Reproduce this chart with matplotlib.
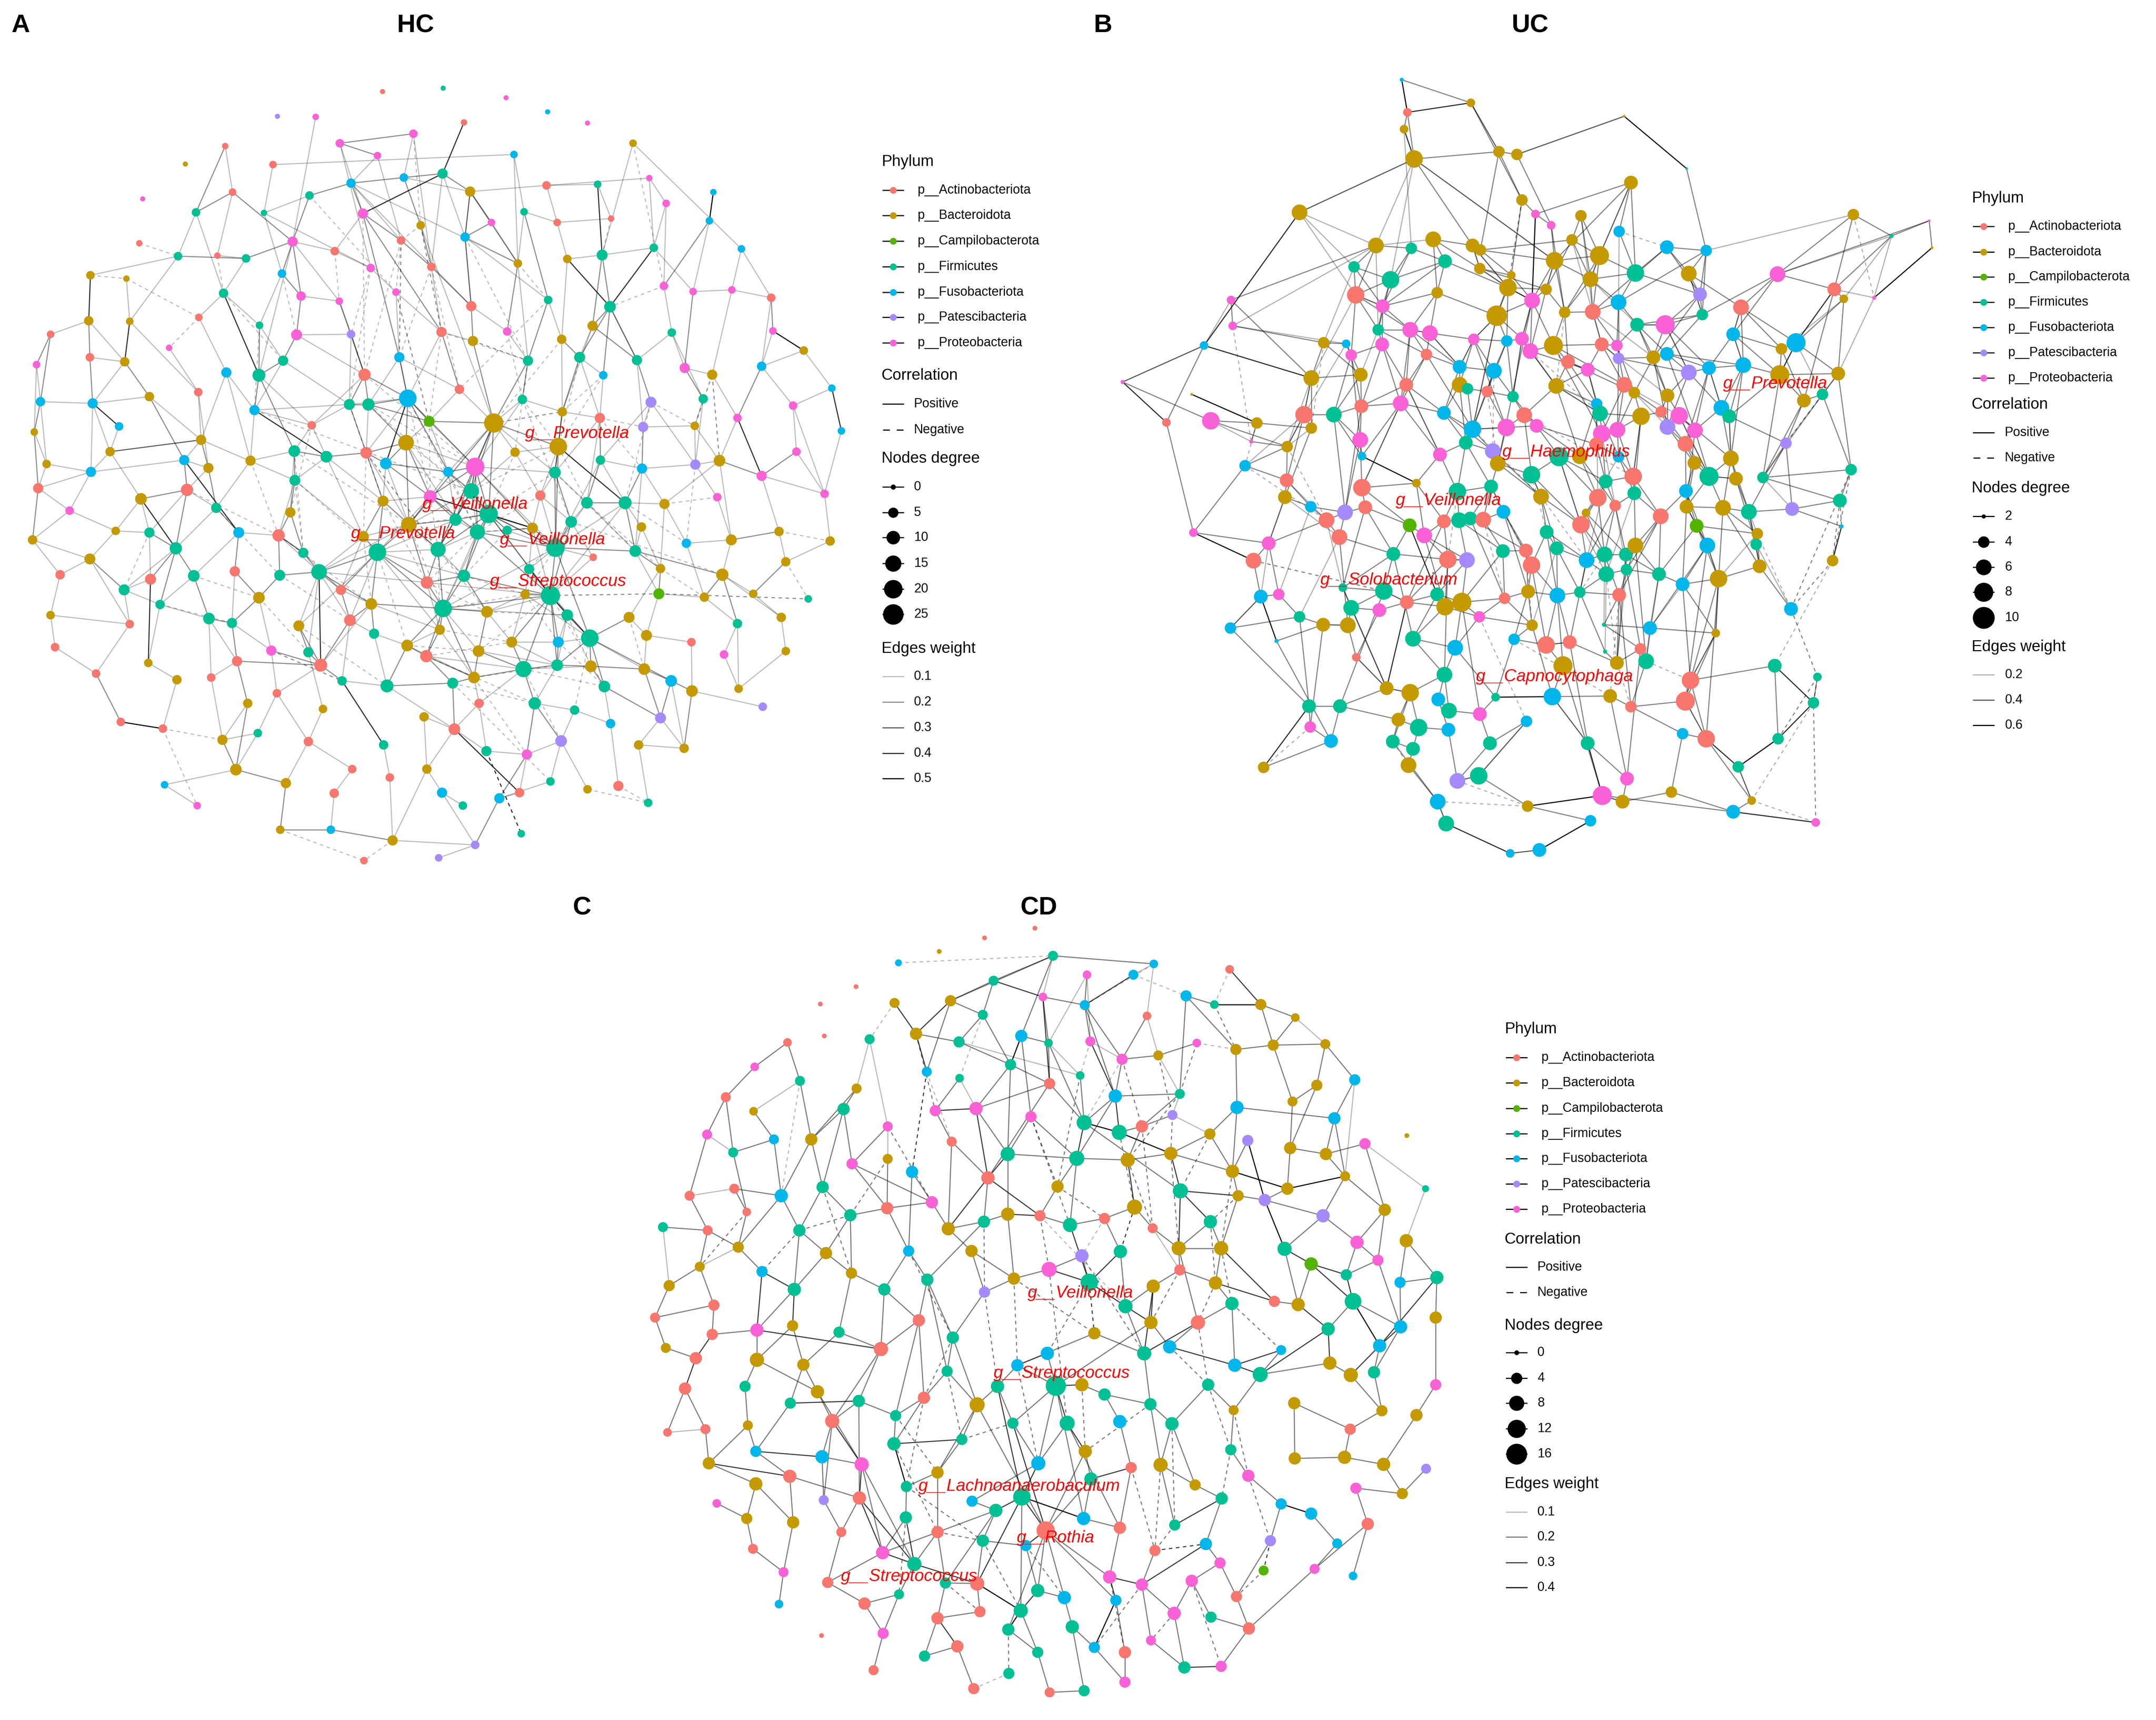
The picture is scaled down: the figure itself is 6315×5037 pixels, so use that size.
import numpy as np
import matplotlib
matplotlib.use('Agg')
import matplotlib.pyplot as plt
from matplotlib.collections import LineCollection

plt.rcParams['font.family'] = ['Liberation Sans', 'DejaVu Sans']

# phylum legend
phylum_codes = ['A', 'B', 'C', 'F', 'U', 'P', 'R']
phylum_names = ['p__Actinobacteriota', 'p__Bacteroidota', 'p__Campilobacterota',
                'p__Firmicutes', 'p__Fusobacteriota', 'p__Patescibacteria',
                'p__Proteobacteria']
phylum_colors = ['#F8766D', '#C49A00', '#53B400', '#00C094', '#00B6EB',
                 '#A58AFF', '#FB61D7']

# ---------------- HC network: (x, y, phylum, degree) in layout units ----------------
hc_nodes = [
    (681,163,'A',0),(789,157,'F',0),(901,174,'R',0),(975,199,'U',0),(1046,219,'R',0),
    (494,207,'P',0),(562,208,'R',1),(330,292,'B',0),(254,354,'R',0),(826,218,'A',1),
    (605,255,'R',3),(736,238,'R',3),(401,260,'A',1),(486,293,'A',2),(672,277,'R',2),
    (915,275,'U',2),(1127,255,'B',2),(788,309,'F',5),(625,326,'U',4),(719,316,'U',3),
    (551,348,'F',3),(837,341,'B',5),(973,330,'A',3),(1064,328,'F',2),(1156,317,'R',1),
    (1270,342,'U',1),(1186,362,'R',2),(349,378,'F',3),(414,342,'A',2),(470,379,'F',1),
    (646,380,'R',5),(749,401,'B',3),(875,396,'R',2),(933,377,'F',2),(992,396,'A',2),
    (1088,389,'A',1),(1263,393,'U',2),(248,433,'A',1),(387,455,'A',1),(317,456,'F',3),
    (438,460,'F',3),(521,430,'R',5),(502,487,'U',3),(596,447,'A',3),(714,428,'A',3),
    (828,422,'U',4),(1072,454,'F',6),(1164,441,'F',3),(1320,443,'U',2),(161,490,'B',3),
    (225,496,'B',1),(660,477,'R',3),(768,475,'A',3),(922,469,'B',3),(1010,461,'B',3),
    (1182,509,'R',3),(1234,519,'R',2),(1303,516,'R',2),(398,522,'F',4),(536,527,'R',4),
    (604,536,'R',2),(705,520,'R',2),(976,534,'F',3),(1086,546,'F',7),(1373,530,'A',3),
    (158,571,'B',4),(231,572,'B',2),(354,565,'A',2),(462,579,'F',2),(528,596,'R',6),
    (625,595,'P',3),(786,591,'A',5),(839,545,'A',5),(842,607,'B',5),(903,590,'R',3),
    (1000,604,'B',4),(1055,580,'B',5),(1196,592,'F',3),(1376,589,'R',2),(1431,624,'B',3),
    (90,595,'A',2),(160,636,'A',3),(222,644,'B',4),(301,619,'R',1),(504,642,'F',5),
    (649,667,'A',8),(711,636,'U',5),(940,642,'F',5),(1032,636,'F',6),(1134,641,'F',5),
    (1219,655,'R',5),(1268,667,'B',5),(1356,652,'U',4),(65,649,'R',2),(403,663,'U',5),
    (461,668,'F',9),(266,706,'B',4),(353,698,'A',3),(818,693,'A',4),(1074,668,'U',3),
    (1481,691,'U',2),(72,715,'U',4),(165,718,'U',5),(212,759,'U',3),(453,730,'U',5),
    (622,720,'F',6),(656,720,'F',8),(726,709,'U',18),(764,750,'C',6),(879,753,'B',22),
    (930,711,'F',4),(1001,733,'B',4),(1068,744,'A',5),(1159,716,'P',6),(1145,760,'P',5),
    (1252,710,'F',4),(1313,744,'R',3),(1412,722,'R',3),(1498,767,'U',2),(61,769,'B',2),
    (196,804,'B',4),(358,783,'B',5),(555,757,'A',3),(723,788,'B',14),(994,795,'B',18),
    (917,805,'B',4),(1237,758,'B',3),(83,826,'B',3),(162,840,'U',5),(328,819,'U',5),
    (371,833,'B',5),(446,820,'B',5),(524,803,'F',7),(581,813,'F',7),(652,806,'A',7),
    (687,825,'U',7),(798,840,'U',5),(846,831,'R',20),(988,841,'F',7),(1069,819,'F',4),
    (1143,834,'U',5),(1238,827,'P',5),(1281,820,'B',7),(1356,847,'R',5),(1418,804,'R',3),
    (68,869,'A',5),(333,872,'A',8),(525,855,'F',6),(766,884,'R',9),(839,874,'F',14),
    (962,882,'A',5),(1277,885,'R',3),(1468,879,'R',3),(124,909,'R',3),(251,888,'B',7),
    (385,904,'F',5),(517,912,'B',5),(682,892,'B',6),(811,925,'F',8),(870,915,'F',20),
    (903,944,'F',4),(948,940,'B',6),(1017,929,'F',7),(1045,895,'F',7),(1113,895,'F',9),
    (1183,897,'B',5),(58,961,'B',4),(206,945,'B',3),(266,948,'F',5),(425,948,'U',6),
    (496,953,'A',8),(647,955,'B',6),(728,934,'B',14),(850,947,'F',13),(780,978,'F',13),
    (989,975,'F',20),(1142,938,'B',4),(1131,981,'F',7),(1222,967,'U',4),(1302,961,'B',6),
    (1387,946,'B',4),(1478,963,'B',4),(313,976,'F',8),(672,983,'F',18),(540,984,'F',5),
    (1056,992,'A',2),(107,1023,'A',4),(160,995,'B',6),(268,1031,'A',6),(345,1025,'F',7),
    (418,1017,'A',5),(498,1024,'F',6),(568,1018,'F',14),(607,1050,'A',5),(760,1037,'A',8),
    (826,1025,'F',8),(942,1013,'F',5),(1176,1012,'B',4),(1286,1023,'B',8),(1399,1000,'B',4),
    (221,1050,'F',6),(285,1076,'F',4),(461,1064,'B',7),(661,1075,'B',7),(789,1083,'F',18),
    (867,1089,'B',7),(935,1058,'B',4),(980,1060,'F',22),(1173,1057,'C',6),(1254,1063,'B',4),
    (1341,1057,'B',3),(1439,1066,'F',2),(90,1095,'B',3),(231,1111,'A',3),(372,1101,'F',7),
    (413,1109,'F',5),(532,1114,'B',6),(623,1104,'A',7),(783,1121,'B',5),(1010,1095,'F',7),
    (1120,1099,'B',6),(1050,1136,'F',18),(1151,1131,'B',6),(1313,1110,'F',4),(1391,1099,'B',4),
    (98,1152,'A',3),(483,1158,'R',5),(549,1161,'F',5),(666,1128,'F',5),(725,1149,'B',7),
    (759,1168,'A',8),(852,1159,'B',7),(911,1143,'B',6),(994,1143,'U',6),(1231,1143,'A',3),
    (1289,1165,'R',3),(1399,1159,'B',3),(171,1199,'A',3),(264,1180,'B',3),(376,1206,'A',3),
    (422,1177,'A',5),(571,1184,'A',9),(315,1210,'B',4),(609,1212,'F',4),(844,1206,'B',7),
    (932,1191,'F',15),(992,1184,'F',7),(1052,1186,'B',7),(1147,1191,'B',7),(1195,1212,'U',7),
    (1232,1230,'B',7),(1315,1226,'B',3),(493,1234,'A',3),(689,1221,'F',9),(806,1216,'F',6),
    (1076,1222,'F',7),(1358,1258,'P',3),(441,1252,'B',4),(575,1262,'B',3),(853,1252,'A',4),
    (952,1252,'F',8),(1023,1264,'F',4),(1176,1278,'P',6),(755,1276,'B',4),(215,1285,'A',3),
    (290,1297,'A',3),(396,1317,'B',5),(459,1305,'F',3),(549,1320,'A',4),(809,1298,'A',7),
    (683,1326,'F',4),(866,1337,'F',5),(999,1319,'P',7),(1087,1288,'U',4),(1137,1326,'B',4),
    (1218,1332,'B',4),(420,1370,'B',7),(627,1369,'A',3),(760,1369,'B',4),(938,1343,'R',5),
    (694,1384,'A',3),(509,1394,'B',5),(980,1391,'F',3),(1046,1405,'B',3),(1101,1399,'A',5),
    (293,1397,'U',2),(351,1434,'R',2),(595,1412,'A',4),(787,1411,'U',5),(824,1434,'F',3),
    (889,1421,'U',5),(925,1411,'A',4),(1154,1429,'F',3),(499,1477,'B',3),(589,1477,'U',3),
    (699,1496,'B',5),(928,1484,'F',2),(846,1504,'P',3),(781,1527,'P',2),(648,1532,'A',2),
]

# (node i, node j, correlation weight; negative = negative correlation)
hc_edges = [
    (6,41,.1),(9,17,.4),(10,14,.2),(10,11,.2),(10,30,.1),(10,51,.1),(11,19,.1),(11,52,.1),
    (11,31,-.1),(12,27,.2),(12,28,.1),(13,15,.1),(13,29,.1),(14,18,.1),(14,44,.1),(15,33,.1),
    (15,53,.1),(16,46,.1),(16,55,-.1),(16,48,.1),(17,30,.4),(17,19,.2),(17,21,.2),(17,45,.1),
    (17,52,.1),(18,19,.2),(18,20,.2),(18,30,.2),(18,44,.1),(18,53,.1),(19,31,.2),(19,21,.1),
    (20,41,.2),(20,29,.1),(20,61,-.1),(21,32,.2),(21,45,.3),(21,22,.1),(21,53,.2),(22,23,.1),
    (22,34,.1),(22,24,.1),(23,46,.4),(23,35,.1),(24,47,.1),(24,26,.1),(25,36,.5),(26,55,.1),
    (26,47,.1),(27,28,.2),(27,39,.1),(27,58,.1),(28,41,.2),(28,38,.1),(29,42,.1),(29,51,.1),
    (30,44,.2),(30,43,.1),(30,71,.2),(31,52,.2),(31,44,-.1),(31,71,-.2),(32,45,.2),(32,53,.1),
    (33,34,.1),(33,62,.2),(33,53,.1),(34,54,.1),(34,35,.1),(35,46,-.1),(36,55,.2),(36,56,.1),
    (37,39,-.1),(38,40,.1),(38,58,-.1),(39,40,.2),(39,49,.1),(39,66,.1),(40,41,.2),(40,58,.1),
    (41,42,.2),(41,59,.2),(41,60,.1),(41,43,.1),(42,59,.2),(42,68,.1),(43,51,.1),(43,60,-.1),
    (44,52,.2),(44,61,-.1),(44,86,-.2),(45,72,.3),(45,53,.1),(45,62,.1),(46,63,.2),(46,54,.1),
    (46,76,.2),(46,47,.1),(47,63,.4),(47,56,.1),(48,57,.1),(48,64,.1),(49,65,.4),(49,50,-.1),
    (50,67,-.1),(50,66,.1),(51,61,.1),(51,70,-.1),(52,71,.1),(52,72,.2),(53,74,.2),(53,62,-.1),
    (54,63,.4),(54,75,.1),(55,77,.1),(55,63,-.1),(56,90,.2),(56,57,.1),(57,64,.1),(57,91,.1),
    (58,95,.4),(58,67,.1),(58,68,.1),(59,69,.2),(59,60,.1),(60,70,.2),(60,85,.1),(61,71,.1),
    (61,86,.1),(62,75,.1),(62,87,.2),(63,76,.2),(63,88,.2),(63,89,.3),(63,99,.2),(64,78,.2),
    (64,92,.1),(65,81,.2),(65,82,.1),(65,80,.1),(66,82,.4),(66,97,.1),(67,83,-.1),(67,94,.1),
    (68,95,.2),(68,84,.1),(69,84,.2),(69,85,.1),(69,70,.1),(70,85,.3),(70,105,.1),(71,73,.1),
    (71,98,.2),(71,87,-.1),(71,107,.1),(72,73,.2),(72,74,.1),(73,87,-.2),(73,109,.2),(74,87,.1),
    (74,110,-.1),(75,88,.2),(75,111,.1),(76,88,.1),(76,89,.2),(77,90,.1),(77,89,.1),(77,115,.1),
    (78,79,.5),(78,92,.1),(79,100,.1),(79,92,.1),(80,93,.2),(80,101,.2),(81,102,.2),(81,82,.1),
    (82,96,.2),(82,102,.1),(83,97,.1),(84,95,.2),(84,104,.1),(84,105,.1),(85,106,.2),(85,105,.2),
    (85,122,.1),(86,107,.3),(86,98,.1),(87,110,.2),(87,109,.2),(88,111,.2),(88,99,.1),(88,112,.1),
    (89,113,.2),(89,114,.1),(90,115,.2),(90,91,.1),(91,126,-.2),(91,116,.1),(91,142,-.2),
    (92,117,.1),(92,116,.2),(93,101,.1),(93,119,.1),(94,104,.1),(94,121,.1),(94,131,.1),
    (95,104,.2),(95,132,.2),(95,122,.1),(96,102,.1),(96,121,.1),(96,129,.2),(97,121,.1),
    (97,130,.1),(98,109,.1),(98,108,.1),(99,112,.1),(99,111,-.1),(100,118,.4),(100,117,.1),
    (101,119,.2),(101,127,.1),(101,102,.1),(102,103,.4),(102,120,.1),(102,128,.1),(103,120,.1),
    (104,133,.4),(104,131,.1),(104,122,.1),(105,106,.2),(105,134,.2),(105,122,.1),(106,107,.2),
    (106,123,.2),(106,108,.2),(107,135,.4),(107,108,.2),(107,123,.2),(107,137,.2),(108,109,.2),
    (108,123,.1),(108,137,.1),(109,137,.2),(109,124,.2),(109,110,.1),(109,159,.2),(109,111,-.2),
    (109,149,.2),(109,125,.1),(110,111,.1),(110,124,-.1),(111,124,.2),(111,112,.1),(112,139,.2),
    (112,114,-.1),(113,114,.1),(113,141,.1),(113,126,-.1),(114,140,.2),(114,126,.1),(115,126,.1),
    (115,141,.1),(116,143,.4),(116,142,.1),(117,144,.1),(117,152,.1),(118,152,.1),(119,127,.1),
    (119,145,.2),(120,121,.3),(120,128,.1),(120,154,.1),(121,130,.2),(121,129,.1),(121,147,.1),
    (122,133,.1),(122,132,.1),(123,135,.2),(123,134,.2),(123,148,.2),(123,137,.1),(124,164,.4),
    (124,138,.2),(124,125,.1),(124,150,.1),(125,149,.1),(125,150,.1),(126,141,.1),(126,142,.1),
    (127,145,.1),(127,128,.1),(128,145,.1),(128,129,.1),(128,153,.1),(129,169,.4),(129,146,.2),
    (129,130,.1),(130,155,.2),(130,146,.1),(131,132,.1),(131,155,.1),(132,133,.2),(132,147,.2),
    (132,156,.1),(133,134,.2),(133,147,.1),(133,171,.1),(134,135,.2),(134,157,.2),(135,136,.2),
    (135,157,.1),(136,137,.2),(136,148,.1),(136,158,.1),(137,149,.3),(137,159,.2),(137,138,.1),
    (137,148,.2),(138,162,.2),(138,163,.1),(138,150,.1),(139,164,.1),(139,140,.1),(140,164,.2),
    (140,165,.1),(140,141,.1),(141,142,.1),(141,151,.1),(141,178,-.1),(142,143,.2),(142,179,.1),
    (142,165,.1),(143,144,.2),(143,152,.1),(143,180,.1),(144,152,.1),(145,153,.1),(145,166,.2),
    (146,154,.2),(146,155,.1),(146,168,.1),(146,182,.2),(147,156,.2),(147,170,.1),(148,161,.4),
    (148,158,.2),(148,157,.1),(148,172,.2),(149,159,.2),(149,158,.2),(149,173,.1),(150,162,.1),
    (150,161,.1),(151,179,.1),(151,165,-.1),(152,181,.1),(153,167,.1),(153,166,.1),(154,182,.4),
    (154,168,.1),(154,167,.1),(155,169,.2),(155,182,.1),(156,170,.2),(156,184,.2),(157,171,.2),
    (157,183,.2),(157,172,.1),(158,159,.2),(158,174,.2),(158,173,.1),(159,160,.2),(159,173,.2),
    (159,175,.3),(159,161,.2),(159,195,.2),(160,161,.2),(160,175,.1),(161,175,.2),(161,196,.1),
    (162,175,.2),(162,163,.1),(162,185,.1),(163,164,.2),(163,177,.1),(164,177,.2),(164,176,.1),
    (164,165,.1),(165,178,.1),(165,197,.1),(166,186,.1),(166,187,.1),(167,187,.1),(167,168,.1),
    (168,182,.2),(168,188,.1),(169,190,.2),(169,189,.1),(169,170,.1),(170,184,.3),(170,191,.2),
    (171,183,.2),(171,193,.1),(172,183,.2),(172,174,.2),(172,194,.2),(173,174,.1),(173,195,.2),
    (173,175,.2),(174,194,.2),(174,183,.1),(174,204,.2),(175,207,.2),(175,196,.1),(175,177,.2),
    (175,185,.1),(176,177,.1),(176,197,.1),(177,197,.2),(177,198,.2),(177,208,.1),(178,209,.1),
    (178,179,.1),(179,198,.1),(179,180,.2),(180,199,.1),(180,181,-.1),(181,199,.1),(182,189,.2),
    (182,200,.1),(182,201,.2),(182,188,.2),(183,192,.2),(183,203,.2),(183,194,.2),(183,193,.2),
    (184,192,.2),(185,207,.1),(186,187,.1),(186,212,.1),(187,200,.2),(187,213,.1),(188,238,.4),
    (188,200,.1),(189,214,.2),(189,201,.1),(190,202,.2),(190,215,.1),(191,202,.2),(191,192,.2),
    (192,241,.4),(192,193,.2),(192,216,.1),(192,203,.2),(193,217,.2),(194,204,.2),(194,218,.1),
    (194,195,.2),(195,204,.2),(195,205,.2),(196,206,.1),(196,207,.2),(197,208,.2),(197,220,.1),
    (198,209,.2),(198,210,.1),(198,223,.2),(198,224,.1),(199,210,.2),(199,211,-.1),(200,213,.1),
    (200,201,.1),(201,214,.1),(201,238,.1),(202,215,.2),(202,226,.1),(203,217,.2),(203,228,.2),
    (203,204,.2),(204,218,.2),(204,205,.2),(204,229,.2),(204,230,.2),(204,207,.2),(205,231,.2),
    (205,206,.1),(206,207,.2),(206,232,.1),(207,219,.2),(207,221,.3),(207,233,.2),(207,208,-.2),
    (207,246,.2),(208,222,.1),(208,211,-.2),(208,209,.1),(209,223,.1),(210,224,.1),(212,225,.1),
    (212,213,.1),(213,237,.1),(214,215,.2),(214,239,.1),(214,240,.1),(215,240,.2),(215,226,.1),
    (216,227,.2),(216,241,.2),(217,228,.1),(217,243,.1),(217,241,.2),(218,229,.1),(218,230,.2),
    (219,221,.2),(219,233,.1),(220,221,.2),(220,222,.1),(221,247,.2),(221,246,.2),(221,255,.2),
    (221,248,.1),(221,249,.2),(222,248,.1),(222,234,.1),(223,235,.1),(223,251,.1),(224,236,.1),
    (225,237,.1),(226,241,.2),(226,252,.1),(227,241,.2),(227,258,.1),(228,229,.1),(228,253,.1),
    (229,230,.2),(229,253,.2),(230,244,.2),(230,254,.2),(231,244,.2),(231,245,.2),(232,245,.2),
    (232,233,.1),(233,246,.2),(234,250,.1),(235,251,.1),(236,251,.1),(237,264,.2),(238,242,.1),
    (239,266,.1),(239,240,.1),(240,257,.2),(240,241,.2),(241,243,.2),(241,252,.1),(242,265,.1),
    (243,270,.4),(243,253,.1),(244,254,.2),(244,259,.1),(244,245,.2),(245,246,.2),(245,260,.2),
    (245,259,.1),(246,260,.1),(246,247,.2),(247,255,.2),(247,248,.2),(248,249,.2),(248,262,.2),
    (249,250,.2),(249,262,.2),(249,275,.1),(250,256,.1),(250,275,.2),(252,267,.1),(252,268,.1),
    (253,254,.2),(253,269,.1),(254,269,.2),(255,262,.2),(255,273,.1),(257,266,.1),(257,276,.2),
    (258,268,.1),(259,271,.1),(259,269,.1),(260,272,.2),(260,279,.2),(260,261,.1),(261,272,.1),
    (261,273,.1),(262,274,.1),(262,275,.1),(263,278,.1),(263,269,.1),(264,265,.5),(265,266,-.1),
    (265,286,-.1),(266,276,.2),(266,267,.1),(267,276,.1),(268,277,.1),(268,281,.1),(269,291,.4),
    (269,271,.1),(269,278,.1),(270,280,.1),(271,296,-.4),(271,279,.1),(272,282,.1),(272,283,.1),
    (272,279,.1),(273,284,.1),(274,292,.1),(274,275,.1),(276,281,.2),(276,285,.1),(277,287,.1),
    (278,288,.1),(278,295,.1),(279,290,.2),(279,291,.1),(280,295,.1),(281,293,.2),(282,290,.1),
    (283,292,-.1),(284,292,-.1),(285,286,.1),(287,294,.1),(288,297,.1),(288,289,.1),(290,297,.2),
    (290,291,.1),(293,294,.2),(293,299,-.1),(294,295,.2),(295,297,.1),(295,299,-.1),(297,298,.1),
    (31,109,.1),(18,72,.1),(45,87,-.1),(51,105,-.1),(53,87,.1),(61,108,-.2),(41,95,.1),(30,86,.2),
    (52,98,-.1),(75,109,-.1),(76,111,.1),(107,173,-.1),(109,174,.2),(109,172,.2),(137,173,.2),
    (149,207,.1),(159,207,.2),(175,221,.2),(124,175,.2),(183,204,.2),(183,218,.1),(172,204,-.1),
    (85,137,-.1),(104,149,-.1),(106,159,-.1),(132,172,-.1),(134,174,-.2),(147,183,-.1),
    (170,203,-.1),(191,217,-.1),(202,227,-.1),(226,243,-.2),(216,253,-.1),(230,260,-.1),
    (244,279,-.1),(254,282,-.1),(245,272,-.1),(207,255,-.1),(219,247,-.1),(221,261,-.1),
    (138,177,-.1),(162,198,-.1),(163,197,-.1),(164,178,-.1),(112,140,-.1),(99,124,-.1),
    (113,164,-.1),(88,124,-.1),(87,125,-.1),(110,162,-.1),(146,170,-.1),(155,191,-.1),
    (189,202,-.1),(201,215,-.1),(168,200,-.1),(58,84,-.1),(68,104,-.1),(42,69,-.1),(30,85,-.1),
    (44,85,-.1),(52,86,-.1),(71,108,-.1),(62,98,-.1),(197,209,-.1),(220,248,-.1),(233,255,-.1),
    (85,107,.2),(86,106,.1),(104,105,.1),(105,107,.1),(106,134,.1),(107,134,.1),(107,136,.2),
    (108,136,.1),(109,136,.1),(109,138,.1),(110,137,.1),(111,138,.2),(112,138,.1),(112,163,.1),
    (113,139,.1),(123,158,.1),(123,172,.2),(133,157,.1),(134,172,.1),(135,148,.2),(135,172,.1),
    (136,149,.2),(136,159,.1),(137,158,.2),(137,161,.2),(137,175,.1),(138,175,.2),(139,163,.2),
    (139,175,.1),(140,177,.1),(147,171,.1),(148,173,.2),(148,183,.1),(149,172,.1),(149,174,.2),
    (150,175,.1),(157,174,.1),(158,172,.2),(158,183,.1),(159,174,.2),(159,204,.1),(160,173,.1),
    (161,207,.1),(162,207,.2),(163,175,.1),(164,175,.1),(164,207,.1),(170,192,.1),(171,192,.1),
    (171,172,.1),(172,192,.1),(173,204,.1),(173,207,.2),(174,195,.1),(175,204,.1),(183,195,.1),
    (184,193,.1),(192,194,.1),(193,203,.1),(194,207,.1),(195,207,.2),(196,221,.1),(196,219,.1),
    (203,218,.1),(204,219,.1),(204,231,.1),(205,207,.1),(205,232,.1),(206,221,.1),(207,232,.2),
    (207,245,.2),(218,244,.1),(219,246,.1),(221,233,.1),(229,244,.1),(230,245,.1),(231,246,.1),
    (232,246,.1),(245,247,.1),(204,244,.2),(183,217,.1),(183,216,.1),(192,217,.1),(203,241,.1),
    (192,227,.1),(106,137,-.1),(107,148,-.1),(108,148,-.1),(123,149,-.1),(124,149,-.1),
    (124,163,-.1),(125,159,-.1),(136,173,-.1),(137,174,-.1),(138,159,-.1),(148,174,-.1),
    (150,173,-.1),(159,172,-.1),(160,195,-.1),(161,173,-.1),(162,196,-.1),(172,195,-.1),
    (173,194,-.1),(174,205,-.1),(175,206,-.1),(194,205,-.1),(195,206,-.1),(204,206,-.1),
    (205,219,-.1),(206,233,-.1),(207,231,-.1),(218,232,-.1),(229,231,-.1),(230,232,-.1),
    (244,246,-.1),(245,255,-.1),(254,260,-.1),(174,218,-.1),(183,229,-.1),(171,203,-.1),
    (157,194,-.1),(134,171,-.1),(105,157,-.1),(122,156,-.1),(131,170,-.1),(147,184,-.1),
    (132,184,-.1),
]

hc_labels = [('g__Prevotella', 935, 772), ('g__Veillonella', 752, 898),
             ('g__Prevotella', 625, 950), ('g__Veillonella', 890, 961),
             ('g__Streptococcus', 872, 1035)]

# ---------------- UC network ----------------
uc_nodes = [
    (581,142,'U',2),(591,200,'A',3),(585,230,'B',3),(704,183,'B',3),(603,283,'B',7),
    (754,270,'B',4),(786,275,'B',4),(977,207,'B',0),(1088,300,'F',0),(399,378,'B',6),
    (795,356,'B',4),(989,325,'B',5),(819,381,'R',3),(847,401,'R',3),(900,384,'B',4),
    (968,412,'U',4),(1385,382,'B',4),(1520,393,'R',0),(1453,420,'F',2),(1525,441,'B',0),
    (535,437,'B',6),(598,442,'F',4),(637,426,'B',6),(707,437,'B',5),(721,445,'B',4),
    (658,465,'F',5),(496,475,'F',4),(561,498,'F',7),(720,478,'B',4),(853,464,'B',7),
    (884,427,'B',4),(933,455,'B',8),(1053,440,'U',5),(1123,446,'U',4),(997,486,'F',7),
    (1092,487,'B',6),(1250,488,'R',6),(917,497,'B',6),(776,490,'B',3),(770,512,'B',7),
    (838,515,'B',4),(644,521,'B',4),(499,525,'A',7),(547,545,'R',5),(813,535,'R',6),
    (750,562,'B',9),(871,556,'B',4),(921,555,'A',6),(967,538,'U',6),(1112,524,'P',5),
    (1116,560,'F',4),(1185,547,'A',6),(1351,515,'A',5),(1368,532,'B',3),(1422,530,'R',2),
    (277,534,'R',3),(280,580,'R',3),(229,615,'U',3),(84,680,'R',2),(539,587,'F',4),
    (596,587,'R',6),(631,593,'R',6),(709,604,'R',4),(768,607,'U',4),(795,603,'R',5),
    (810,625,'R',6),(851,615,'B',8),(877,644,'A',5),(937,613,'A',5),(964,615,'R',4),
    (967,638,'P',4),(1000,578,'F',5),(1050,578,'R',8),(1029,636,'B',5),(1053,630,'U',5),
    (1171,595,'U',5),(1283,610,'U',8),(1257,621,'B',4),(442,610,'B',4),(482,612,'U',3),
    (491,632,'R',4),(546,613,'R',5),(625,631,'A',4),(684,653,'U',5),(745,660,'U',6),
    (912,658,'R',5),(1092,663,'P',6),(1128,655,'U',5),(1189,650,'U',6),(1254,667,'B',8),
    (1358,665,'B',5),(420,673,'B',6),(508,667,'B',5),(589,685,'A',5),(684,685,'B',6),
    (698,692,'F',4),(733,697,'A',4),(779,706,'F',4),(856,687,'B',6),(977,685,'A',6),
    (995,699,'B',4),(1054,704,'B',5),(1297,713,'B',5),(1330,702,'F',4),(207,702,'B',0),
    (241,749,'R',7),(162,752,'A',3),(323,753,'B',4),(313,786,'R',2),(407,738,'A',7),
    (420,762,'B',4),(460,738,'F',6),(509,723,'A',5),(579,718,'R',6),(656,735,'U',5),
    (707,764,'U',7),(767,761,'R',7),(799,739,'A',6),(821,758,'R',5),(928,719,'U',4),
    (934,736,'F',6),(937,772,'R',7),(965,765,'R',6),(1007,741,'B',7),(1043,733,'A',4),
    (1054,760,'P',6),(1075,740,'R',7),(1103,766,'R',6),(1150,726,'U',6),(1164,741,'F',5),
    (1265,789,'P',4),(377,795,'B',4),(507,783,'R',6),(510,812,'U',3),(649,809,'R',5),
    (695,788,'F',5),(743,803,'P',6),(752,825,'B',6),(812,845,'F',7),(861,813,'F',8),
    (898,812,'B',6),(927,791,'A',5),(967,813,'U',4),(1086,790,'A',6),(1102,824,'B',5),
    (1167,816,'B',6),(1128,848,'F',8),(1176,852,'B',5),(1224,850,'F',4),(1381,836,'F',4),
    (302,829,'U',4),(376,855,'A',5),(373,885,'B',5),(510,868,'A',7),(607,860,'B',3),
    (680,875,'F',7),(740,866,'F',5),(829,884,'B',6),(944,857,'F',5),(993,848,'A',7),
    (995,878,'F',5),(930,886,'A',7),(961,900,'A',4),(1087,874,'U',5),(1088,902,'B',5),
    (1153,904,'B',6),(1199,911,'F',6),(1276,906,'P',5),(1361,891,'F',5),(419,902,'U',4),
    (480,912,'P',6),(516,903,'A',5),(447,926,'A',6),(470,956,'A',6),(595,935,'C',5),
    (621,953,'R',6),(656,928,'A',5),(683,926,'F',6),(703,923,'F',5),(726,925,'A',6),
    (762,911,'U',5),(839,947,'F',5),(900,934,'A',7),(909,913,'B',3),(1042,919,'A',6),
    (1106,936,'C',5),(1214,950,'B',4),(1212,969,'F',4),(1364,937,'U',2),(210,948,'R',3),
    (344,967,'R',5),(317,998,'A',6),(566,986,'F',5),(663,996,'A',7),(697,997,'P',6),
    (761,981,'F',5),(802,980,'A',5),(812,1006,'A',7),(857,976,'F',5),(910,997,'U',6),
    (942,987,'F',6),(980,987,'F',5),(997,971,'B',6),(1125,971,'U',6),(1218,1008,'B',5),
    (1348,998,'B',4),(945,1022,'F',6),(981,1014,'F',4),(1039,1022,'F',5),(1081,1040,'U',5),
    (1145,1030,'B',7),(1274,1084,'U',5),(330,1062,'U',5),(362,1058,'R',4),(476,1046,'F',3),
    (549,1052,'F',7),(590,1072,'A',5),(644,1058,'F',5),(658,1080,'B',7),(688,1072,'B',8),
    (764,1065,'A',4),(806,1053,'B',5),(858,1060,'U',6),(898,1054,'F',4),(968,1059,'A',5),
    (276,1118,'U',4),(358,1141,'U',2),(399,1098,'F',4),(441,1112,'B',5),(485,1113,'B',6),
    (491,1082,'F',6),(541,1086,'R',5),(719,1098,'R',4),(813,1113,'B',4),(941,1112,'F',2),
    (1023,1118,'U',5),(1140,1127,'B',3),(601,1137,'F',6),(676,1153,'U',6),(781,1138,'U',4),
    (838,1148,'A',7),(880,1143,'A',5),(943,1160,'F',2),(964,1180,'B',5),(1006,1155,'A',4),
    (1016,1177,'F',6),(500,1170,'A',3),(868,1185,'B',8),(1245,1185,'F',5),(1321,1205,'F',3),
    (657,1201,'F',6),(554,1225,'B',5),(596,1233,'B',7),(1095,1211,'A',7),(1086,1248,'A',8),
    (748,1241,'F',3),(849,1240,'U',7),(952,1239,'B',5),(989,1258,'A',4),(1314,1251,'F',4),
    (646,1245,'U',5),(665,1265,'F',6),(416,1257,'F',5),(471,1257,'F',5),(720,1271,'R',5),
    (803,1284,'U',4),(575,1281,'B',5),(611,1295,'F',7),(664,1299,'U',5),(1081,1306,'U',4),
    (1123,1315,'A',7),(418,1294,'R',4),(455,1319,'U',5),(565,1320,'F',5),(601,1333,'F',5),
    (738,1323,'F',5),(912,1323,'F',5),(1251,1315,'F',4),(1180,1365,'F',4),(335,1366,'B',4),
    (593,1362,'B',6),(718,1381,'F',7),(680,1390,'P',6),(982,1386,'R',5),(938,1416,'R',8),
    (974,1427,'B',5),(1061,1410,'B',4),(1204,1425,'B',3),(645,1427,'U',6),(805,1435,'B',4),
    (1171,1445,'U',5),(1318,1464,'R',3),(660,1466,'F',6),(917,1461,'U',4),(774,1519,'U',3),
    (826,1513,'U',5),
]

uc_edges = [
    (0,1,.6),(0,3,.3),(1,3,.5),(1,2,.3),(2,4,.5),(1,4,.3),(3,5,.4),(3,10,.3),(4,5,.3),(4,9,.4),
    (4,29,.4),(4,23,.3),(4,20,.2),(4,27,.2),(5,6,.3),(5,10,.3),(6,7,.4),(7,8,.6),(8,33,.3),
    (6,13,.3),(5,24,.3),(2,21,.2),(9,57,.5),(9,20,.2),(9,42,.2),(9,26,.2),(10,12,.3),(10,38,.3),
    (10,39,-.3),(11,29,.3),(11,15,.3),(11,31,.4),(11,12,.3),(11,34,.3),(12,44,.6),(12,13,.3),
    (13,29,.3),(13,46,.3),(14,31,.3),(14,30,.3),(14,37,.3),(15,32,-.2),(15,34,.3),(16,18,.3),
    (16,52,.3),(16,36,.3),(17,18,.3),(17,36,.3),(17,19,.3),(19,54,.6),(18,52,.3),(18,53,.2),
    (52,76,.5),(53,90,.3),(54,52,.2),(16,33,.2),(20,21,.3),(20,42,.3),(20,22,.2),(21,25,.3),
    (21,27,.3),(22,23,.3),(22,25,.3),(22,28,.3),(23,24,.3),(23,28,.4),(24,29,.3),(24,30,.3),
    (25,27,.3),(25,41,.3),(25,39,.3),(26,27,.3),(26,42,.3),(26,43,.3),(27,43,.3),(27,59,.3),
    (28,39,.4),(28,38,.3),(29,37,.3),(29,31,.3),(29,44,.3),(30,31,.3),(30,40,.3),(31,34,.3),
    (31,37,.4),(31,47,.3),(32,33,.3),(32,34,.3),(32,35,.3),(32,49,.3),(33,35,.3),(33,49,.3),
    (33,50,.3),(34,37,.3),(34,48,.3),(35,49,.3),(35,51,.3),(36,51,.3),(36,75,.3),(36,52,.3),
    (37,47,.3),(37,46,.3),(38,39,.3),(38,45,.3),(39,40,.3),(39,45,.3),(39,44,.5),(40,44,.3),
    (40,46,.3),(41,45,.3),(41,43,.3),(41,61,.3),(42,43,.4),(42,59,.3),(42,80,.3),(43,59,.3),
    (43,81,.3),(44,45,.3),(44,64,.4),(44,65,.3),(45,62,.4),(45,63,.3),(46,47,.3),(46,66,.3),
    (47,48,.3),(47,68,.3),(48,71,.3),(48,69,.3),(49,50,.3),(49,72,.3),(50,72,.3),(50,74,.3),
    (51,75,.4),(51,76,.3),(51,88,.3),(52,53,.3),(53,76,.3),(55,56,.3),(55,20,.3),(55,91,.3),
    (55,57,.2),(56,78,.3),(56,20,.2),(56,79,.2),(57,58,.4),(57,91,.5),(58,106,.5),(58,105,.3),
    (106,57,.3),(59,60,.3),(59,81,.3),(60,61,.4),(60,82,.3),(60,93,.3),(61,62,.3),(61,82,.3),
    (62,63,.3),(62,83,.4),(62,94,.3),(63,64,.3),(63,84,.3),(64,65,.4),(65,66,.3),(65,85,.3),
    (66,67,.3),(66,68,.3),(67,85,.3),(67,98,.3),(68,69,.3),(68,70,.3),(69,71,.3),(69,99,.3),
    (70,73,.3),(71,72,.4),(71,74,.3),(72,73,.3),(72,86,.4),(73,74,.3),(73,100,.3),(74,86,.3),
    (74,87,.3),(75,87,.3),(75,88,.4),(75,89,.3),(76,89,.5),(76,77,.3),(76,90,.3),(77,89,.3),
    (77,102,.3),(78,79,.3),(78,91,.3),(78,92,.3),(79,80,.3),(79,92,.3),(80,81,.3),(80,112,.3),
    (81,93,.3),(81,113,.3),(82,93,.3),(82,83,.3),(83,84,.3),(83,94,.3),(84,96,.3),(84,97,.3),
    (85,98,.3),(85,119,.3),(86,87,.3),(86,101,.3),(87,88,.3),(87,128,.4),(88,89,.3),(88,128,.3),
    (89,90,.3),(89,102,.3),(90,103,.3),(90,149,.3),(91,92,.3),(91,109,.4),(91,110,.3),(92,112,.3),
    (92,111,.3),(93,113,.3),(93,112,.3),(94,95,.4),(94,114,.3),(95,96,.3),(96,97,.3),(96,115,.3),
    (97,117,.3),(98,117,.3),(98,119,.3),(99,100,.3),(99,122,.3),(100,123,.3),(100,124,.3),
    (101,124,.3),(101,126,.3),(102,103,.3),(102,130,.3),(103,149,.3),(103,130,-.3),(104,107,.6),
    (105,107,.3),(105,131,.3),(105,108,.2),(106,189,.3),(107,108,.3),(107,110,.3),(108,131,.3),
    (109,110,.3),(109,111,.3),(109,131,.4),(109,151,.3),(110,152,.3),(111,112,.3),(111,132,.3),
    (112,113,.3),(112,132,.3),(113,114,.3),(113,134,.3),(114,115,.3),(114,135,.3),(115,116,.4),
    (115,136,.3),(116,117,.3),(116,118,.3),(117,118,.3),(118,139,.3),(118,141,.3),(119,120,.4),
    (119,140,.3),(120,121,.3),(120,123,.3),(121,122,.4),(121,141,.3),(122,123,.3),(122,142,.3),
    (123,124,.3),(124,125,.3),(125,126,.3),(125,143,.3),(126,127,.4),(127,128,.3),(127,143,.3),
    (128,129,.3),(129,145,.4),(129,130,.3),(130,167,.3),(130,148,.3),(131,150,.3),(131,151,.3),
    (132,133,.3),(132,153,.3),(133,154,.6),(134,135,.3),(134,155,.3),(135,136,.3),(135,155,.3),
    (136,137,.4),(137,138,.3),(137,156,.3),(138,139,.3),(138,157,.4),(139,140,.3),(139,158,.3),
    (140,141,.3),(140,161,.3),(141,142,.3),(142,159,.3),(143,144,.3),(143,146,.3),(144,146,.3),
    (144,163,.3),(145,147,.3),(145,146,.3),(146,147,.4),(146,164,.3),(147,166,.3),(148,149,.3),
    (148,168,.3),(149,168,.3),(149,211,-.3),(149,205,-.3),(150,151,.3),(150,189,.3),(151,152,.3),
    (151,169,.3),(152,190,.4),(152,169,.3),(153,171,.3),(153,154,.3),(154,176,.3),(155,156,.3),
    (155,177,.3),(156,178,.3),(156,180,.3),(157,181,.3),(157,182,.3),(158,159,.3),(158,161,.3),
    (159,160,.3),(160,162,.3),(160,184,.3),(161,182,.3),(161,183,.3),(162,199,.3),(163,164,.3),
    (163,184,.3),(164,165,.3),(164,185,.3),(165,166,.3),(165,186,.3),(166,167,.3),(166,187,.3),
    (167,168,.3),(167,188,.3),(168,188,-.3),(168,205,-.3),(169,170,.3),(169,172,.3),(170,171,.3),
    (170,173,.3),(171,174,.3),(172,173,.3),(172,190,.3),(173,192,.3),(174,175,.3),(174,217,.5),
    (175,176,.3),(175,193,.3),(176,177,.3),(177,178,.3),(178,179,.3),(179,180,.3),(179,195,.3),
    (180,196,.3),(181,198,.3),(181,197,.3),(182,183,.3),(182,200,.3),(184,202,.3),(184,208,.3),
    (185,203,.3),(185,186,.3),(186,187,.3),(186,204,.3),(187,204,.3),(188,205,.5),(189,191,.6),
    (189,190,.3),(190,191,.3),(190,213,.3),(191,215,-.3),(191,212,.3),(192,193,.3),(192,214,.3),
    (192,215,.3),(193,194,.4),(193,218,.3),(194,219,.3),(195,196,.3),(195,220,.3),(196,197,.4),
    (197,221,.3),(198,199,.3),(198,222,.3),(199,200,.3),(199,223,.3),(200,201,.3),(200,206,.3),
    (201,202,.3),(201,207,.3),(202,224,.3),(203,209,.3),(203,210,.4),(204,210,.3),(204,211,.3),
    (205,211,-.3),(206,207,.3),(206,223,.3),(207,208,.3),(208,209,.3),(208,235,.3),(209,210,.3),
    (209,236,.3),(210,236,.4),(210,253,.3),(211,249,-.3),(212,225,.4),(212,226,.6),(212,213,.3),
    (213,227,.3),(214,215,.3),(214,230,.3),(215,216,.4),(215,230,.3),(216,217,.3),(216,251,.5),
    (216,231,.3),(217,218,.3),(218,219,.4),(218,237,.3),(219,220,.3),(219,238,.3),(220,221,.3),
    (220,232,.3),(221,222,.3),(221,233,.3),(222,223,.3),(222,240,.3),(223,224,.3),(224,234,.3),
    (225,227,.3),(226,228,.3),(227,228,.3),(228,229,.4),(229,230,.3),(229,246,.3),(230,231,.3),
    (231,246,.3),(232,233,.3),(232,238,.3),(233,239,.3),(234,235,.3),(234,244,.3),(235,236,.3),
    (235,245,.3),(236,253,.4),(237,238,.3),(237,250,.3),(238,250,.3),(239,240,.3),(239,255,.3),
    (240,241,.4),(240,247,.3),(241,243,.3),(242,243,.3),(243,244,.3),(244,245,.3),(245,258,.3),
    (246,251,.4),(247,256,.3),(248,259,.5),(248,253,.3),(249,259,.3),(249,277,-.3),(250,252,.3),
    (250,260,.3),(251,252,.4),(251,263,.3),(252,266,.3),(252,267,.3),(253,254,.4),(253,270,.3),
    (254,258,.3),(254,270,.4),(255,256,.6),(255,264,.3),(256,276,.4),(256,257,.3),(257,258,.3),
    (257,283,.3),(258,269,.3),(259,277,.5),(260,261,.3),(260,268,.3),(261,264,.3),(262,263,.3),
    (262,271,.3),(262,279,.5),(263,272,.3),(263,266,.3),(264,275,.3),(265,275,.3),(265,281,.4),
    (266,267,.3),(266,273,.3),(267,274,.3),(267,268,.3),(268,282,.3),(269,270,.3),(269,286,.3),
    (270,278,.5),(270,287,.3),(271,272,.3),(272,279,.3),(273,274,.3),(273,288,.3),(274,280,.3),
    (275,282,.3),(276,283,.3),(276,284,.5),(277,278,.6),(278,287,.4),(280,288,.3),(281,282,.4),
    (281,289,.3),(283,285,.3),(284,285,.4),(284,289,.6),(284,290,.3),(285,286,.3),(286,290,.3),
    (287,290,.3),(288,292,.4),(289,293,.3),(290,291,.5),(292,294,.5),(294,295,.4),(295,293,.6),
    (291,259,-.3),(259,249,-.3),(287,291,-.2),
    (52,102,.3),(16,54,-.2),(18,36,.2),(66,121,.3),(45,115,.4),(44,137,.3),(139,182,.4),
    (98,140,.3),(123,159,.4),(126,146,.4),(127,164,.3),(87,143,.3),(113,153,.4),(112,170,.3),
    (111,170,.3),(80,132,.3),(60,113,.3),(82,115,.3),(93,134,.4),(62,116,.3),(63,97,.3),
    (64,98,.3),(67,119,.3),(68,99,.3),(70,122,.3),(71,101,.3),(73,125,.3),(74,127,.3),
    (86,129,.3),(88,145,.3),(89,148,.3),(102,148,.3),(130,166,.3),(145,165,.3),(147,187,.3),
    (163,203,.3),(164,209,.3),(165,210,.3),(166,204,.3),(184,224,.3),(185,208,.3),(162,201,.3),
    (183,200,.3),(181,222,.3),(180,221,.3),(178,220,.3),(177,194,.3),(176,216,.3),(175,218,.3),
    (171,214,.3),(173,229,.3),(192,237,.3),(193,250,.3),(197,240,.3),(199,241,.3),(201,243,.3),
    (202,245,.3),(207,244,.3),(203,254,.3),(209,253,.3),(210,270,.3),(236,254,.3),(248,277,.3),
    (222,247,.3),(233,256,.3),(224,258,.3),(244,283,.3),(247,284,.3),(241,276,.3),(250,261,.3),
    (252,273,.3),(238,255,.3),(219,264,.3),(217,237,.3),(230,251,.3),(214,251,.3),(215,263,.3),
    (227,262,.3),(228,271,.3),(225,262,.3),(226,272,.3),
    (46,98,-.2),(65,120,-.2),(84,136,-.2),(96,137,-.2),(115,157,-.2),(117,159,-.2),(138,181,-.2),
    (157,199,-.2),(155,193,-.2),(156,197,-.2),(179,220,-.2),(196,233,-.2),(200,223,-.2),
    (206,243,-.2),(224,257,-.2),(232,265,-.2),(239,257,-.2),(243,258,-.2),(245,253,-.2),
    (259,287,-.2),(271,279,-.2),(273,280,-.2),(282,289,-.2),(288,289,-.2),(205,248,-.2),
    (186,211,-.2),(131,172,-.2),(150,172,-.2),(107,150,-.2),(78,110,-.2),(56,108,-.2),
    (20,26,.3),(21,43,.3),(22,41,.3),(23,39,.4),(24,38,.3),(25,43,.3),(27,42,.3),(28,40,.3),
    (29,40,.4),(29,46,.3),(30,37,.3),(31,46,.3),(32,47,.3),(33,48,.3),(34,49,.3),(35,50,.4),
    (36,50,.3),(37,48,.3),(38,44,.3),(39,63,.3),(40,65,.3),(41,60,.3),(42,60,.3),(43,60,.3),
    (44,66,.3),(45,64,.3),(46,67,.3),(47,69,.3),(48,70,.3),(49,73,.3),(50,71,.3),(51,77,.3),
    (59,82,.3),(60,83,.3),(61,83,.4),(62,84,.3),(63,96,.3),(64,97,.4),(65,98,.3),(66,99,.3),
    (67,100,.3),(68,85,.3),(69,100,.3),(70,86,.3),(71,73,.3),(72,87,.3),(73,101,.3),(74,88,.3),
    (75,77,.3),(80,111,.3),(81,112,.3),(82,113,.3),(83,114,.3),(84,115,.3),(85,120,.3),
    (86,125,.3),(87,127,.3),(88,129,.3),(89,129,.3),(93,114,.3),(94,135,.3),(95,115,.3),
    (96,116,.3),(97,118,.3),(98,120,.4),(99,121,.3),(100,122,.3),(101,125,.3),(111,133,.3),
    (113,133,.3),(114,136,.3),(116,137,.3),(117,138,.3),(118,140,.3),(119,141,.3),(120,142,.3),
    (121,158,.3),(122,159,.3),(123,160,.3),(124,143,.3),(125,144,.3),(126,145,.3),(127,146,.3),
    (128,145,.3),(132,170,.3),(134,154,.3),(135,156,.3),(136,157,.3),(137,157,.3),(138,182,.3),
    (139,161,.3),(140,162,.3),(141,158,.3),(142,160,.3),(143,163,.3),(144,164,.3),(145,166,.3),
    (146,165,.3),(153,174,.3),(154,175,.3),(155,176,.3),(156,179,.3),(157,198,.3),(158,162,.3),
    (159,184,.3),(160,202,.3),(161,200,.3),(162,200,.3),(163,185,.3),(164,203,.3),(165,204,.3),
    (170,172,.3),(171,192,.3),(174,192,.3),(175,194,.3),(176,193,.3),(177,195,.3),(178,196,.3),
    (180,197,.3),(181,199,.3),(182,199,.3),(183,201,.3),(184,207,.3),(185,210,.3),(193,216,.3),
    (194,217,.3),(195,219,.3),(196,221,.3),(197,222,.3),(198,223,.3),(199,206,.3),(200,224,.3),
    (201,208,.3),(202,208,.3),(203,235,.3),(216,218,.3),(217,219,.3),(218,232,.3),(219,232,.3),
    (220,233,.3),(221,239,.3),(222,241,.3),(223,242,.3),(224,243,.3),
    (20,59,.2),(26,78,.2),(42,91,.2),(59,92,.2),(79,109,.2),(91,131,.2),(109,150,.2),(110,131,.2),
    (151,172,.2),(152,173,.2),(169,213,.2),(172,214,.2),(173,227,.2),(190,212,.2),(14,47,.2),
    (15,48,.2),(30,68,.2),(37,71,.2),(47,73,.2),(68,101,.2),(99,126,.2),(100,125,.2),
    (119,161,.2),(121,162,.2),(142,183,.2),(158,199,.2),(160,206,.2),(162,207,.2),(182,206,.2),
    (198,233,.2),(200,234,.2),(206,242,.2),(207,243,.2),(208,245,.2),(209,235,.2),(186,210,.2),
    (187,211,.2),(166,186,.2),(148,167,.2),(103,148,.2),(90,130,.2),(76,103,.2),(53,77,.2),
    (54,90,.2),(18,54,.2),
]

uc_labels = [('g__Prevotella', 1153, 683), ('g__Haemophilus', 760, 805),
             ('g__Veillonella', 570, 891), ('g__Solobacterium', 436, 1033),
             ('g__Capnocytophaga', 713, 1205)]

# ---------------- CD network ----------------
cd_nodes = [
    (833,106,'A',0),(744,124,'A',0),(664,149,'B',0),(517,214,'A',0),(454,246,'A',0),
    (461,305,'A',0),(592,170,'U',1),(865,157,'F',3),(1043,172,'U',2),(760,203,'F',3),
    (925,192,'R',2),(1007,192,'U',3),(1177,182,'A',2),(585,244,'B',3),(684,240,'B',4),
    (847,233,'R',2),(921,248,'U',3),(1100,231,'U',4),(1150,247,'F',2),(1232,247,'B',4),
    (1293,271,'B',2),(741,266,'F',3),(623,301,'B',5),(699,316,'F',4),(541,311,'F',3),
    (809,305,'U',5),(857,318,'F',2),(931,315,'R',3),(1031,268,'A',2),(1119,318,'R',2),
    (1188,330,'B',4),(1254,322,'B',4),(1346,320,'B',3),(1051,341,'B',3),(396,317,'A',2),
    (338,362,'R',2),(987,348,'R',4),(790,358,'F',4),(700,383,'F',2),(642,371,'U',3),
    (913,378,'F',2),(418,388,'F',3),(287,418,'A',3),(336,444,'B',2),(518,402,'B',3),
    (859,393,'A',4),(975,416,'U',6),(1089,412,'F',3),(1331,396,'B',4),(1398,386,'U',4),
    (495,440,'F',5),(657,443,'R',4),(729,439,'R',6),(826,454,'R',4),(1076,451,'P',3),
    (1190,437,'U',6),(1288,426,'B',3),(1362,457,'U',5),(920,465,'F',8),(982,483,'F',8),
    (1022,472,'A',5),(254,487,'R',3),(372,496,'U',3),(438,496,'B',5),(573,472,'R',3),
    (686,500,'A',3),(300,520,'F',3),(1142,486,'B',4),(1209,498,'P',4),(1284,512,'B',5),
    (1347,523,'B',5),(1416,504,'R',4),(1490,489,'B',0),(785,523,'F',7),(907,531,'F',8),
    (997,534,'B',7),(1073,522,'B',6),(510,541,'R',4),(573,532,'B',3),(616,556,'U',5),
    (750,567,'A',6),(873,583,'B',5),(1090,591,'F',8),(1182,555,'B',6),(1279,587,'B',5),
    (1381,564,'B',3),(1523,587,'F',1),(223,600,'A',3),(302,587,'A',3),(385,600,'U',6),
    (458,584,'F',5),(651,612,'R',5),(1009,621,'B',8),(1192,600,'B',4),(1239,608,'P',5),
    (324,630,'A',2),(572,623,'A',5),(507,636,'F',5),(176,658,'F',3),(255,664,'A',3),
    (417,664,'F',5),(680,661,'B',6),(743,648,'F',5),(785,634,'B',6),(842,637,'A',4),
    (895,654,'F',7),(956,642,'A',4),(1041,660,'A',3),(1143,648,'F',6),(1342,637,'P',6),
    (1451,626,'B',5),(309,695,'B',4),(464,706,'B',5),(610,702,'U',4),(721,702,'B',5),
    (916,711,'P',6),(984,703,'F',6),(1087,697,'B',7),(1162,697,'B',7),(1274,698,'F',7),
    (1402,686,'R',6),(1489,683,'B',6),(241,731,'B',3),(351,740,'U',4),(509,743,'B',4),
    (858,736,'R',8),(929,760,'F',11),(1089,737,'A',4),(1321,726,'C',6),(1439,719,'R',4),
    (187,766,'B',4),(408,773,'F',6),(567,773,'F',5),(643,755,'F',5),(744,778,'P',4),
    (796,753,'B',5),(1042,767,'B',6),(1152,761,'B',6),(1383,746,'F',4),(1478,760,'U',4),
    (1543,751,'F',6),(266,802,'A',4),(993,804,'F',7),(1181,799,'F',6),(1256,795,'A',4),
    (1298,801,'B',6),(1395,795,'F',10),(1541,825,'B',5),(162,825,'A',3),(342,848,'R',6),
    (405,840,'B',4),(487,852,'F',4),(628,830,'A',5),(938,854,'B',5),(1038,834,'B',6),
    (1121,834,'A',7),(1351,846,'F',6),(1479,842,'U',6),(181,881,'B',3),(263,856,'A',4),
    (561,883,'A',7),(688,862,'F',5),(855,891,'U',6),(1026,891,'F',7),(1071,879,'U',6),
    (1268,885,'U',3),(1442,877,'U',6),(234,900,'A',5),(342,903,'B',7),(424,912,'B',5),
    (802,913,'U',5),(1186,913,'U',6),(1231,930,'F',8),(1354,909,'B',6),(1391,931,'B',7),
    (1432,926,'F',5),(1541,949,'R',4),(215,956,'A',5),(321,952,'F',4),(449,962,'B',6),
    (678,924,'F',4),(767,952,'F',6),(870,951,'F',15),(916,949,'B',6),(956,967,'F',5),
    (1139,949,'F',5),(401,983,'F',4),(522,979,'F',5),(637,973,'A',5),(731,986,'B',8),
    (1037,985,'F',5),(1184,996,'B',3),(1291,983,'B',5),(1446,997,'B',4),(1507,1005,'B',5),
    (184,1037,'A',2),(251,1031,'A',3),(326,1024,'B',3),(475,1016,'A',7),(587,1006,'F',4),
    (794,1020,'F',4),(890,1020,'F',8),(983,1017,'U',6),(1075,1021,'F',6),(1390,1031,'A',4),
    (340,1072,'U',4),(457,1082,'U',6),(584,1058,'F',6),(704,1050,'F',4),(922,1072,'B',6),
    (1179,1069,'F',4),(1292,1085,'B',5),(1380,1083,'B',6),(1449,1096,'B',6),(1524,1104,'P',3),
    (257,1094,'B',5),(400,1118,'A',6),(527,1096,'R',7),(661,1111,'B',5),(839,1094,'U',7),
    (932,1123,'F',6),(1003,1102,'A',4),(1055,1097,'B',7),(1116,1134,'B',4),(1210,1117,'R',5),
    (1400,1140,'R',4),(1482,1150,'B',4),(271,1168,'R',2),(340,1132,'B',6),(460,1162,'P',3),
    (523,1158,'A',6),(606,1137,'F',4),(722,1164,'U',4),(810,1156,'F',11),(1163,1159,'F',5),
    (324,1196,'B',4),(406,1203,'B',5),(605,1194,'F',5),(764,1181,'F',6),(919,1196,'U',6),
    (1268,1169,'U',4),(1321,1187,'U',5),(491,1221,'A',3),(661,1221,'A',5),(852,1218,'A',12),
    (983,1213,'A',5),(1080,1208,'F',4),(1421,1206,'A',5),(335,1252,'A',3),(564,1259,'R',6),
    (741,1237,'F',5),(817,1246,'U',4),(1045,1255,'A',4),(1135,1243,'U',5),(1249,1237,'P',4),
    (1367,1242,'U',3),(389,1295,'R',3),(620,1280,'F',7),(1237,1292,'C',3),(1160,1278,'R',4),
    (1327,1289,'R',3),(1395,1302,'U',2),(467,1314,'A',4),(675,1315,'F',4),(731,1316,'A',7),
    (965,1304,'R',6),(1022,1318,'R',5),(1110,1311,'R',5),(381,1354,'U',2),(593,1336,'F',3),
    (838,1329,'F',6),(885,1342,'U',6),(1189,1340,'A',4),(532,1353,'A',5),(736,1368,'A',4),
    (808,1366,'F',7),(976,1347,'U',4),(661,1380,'A',5),(1079,1371,'R',6),(1144,1378,'F',4),
    (1211,1399,'A',5),(456,1412,'A',0),(565,1408,'R',4),(786,1401,'F',5),(899,1396,'F',6),
    (1038,1421,'R',3),(696,1432,'A',5),(938,1434,'U',4),(838,1443,'F',4),(992,1443,'A',5),
    (638,1450,'F',4),(548,1476,'A',3),(1097,1471,'F',5),(1162,1469,'R',4),(787,1482,'F',4),
    (725,1510,'A',4),(859,1517,'A',3),(920,1514,'F',4),(992,1498,'R',4),
]

cd_edges = [
    (6,7,-.1),(7,8,.2),(7,9,.2),(7,15,.1),(7,25,.2),(8,11,.1),(8,16,-.1),(8,28,.1),(9,14,.2),
    (9,15,.3),(9,21,.2),(10,16,.2),(10,27,.1),(11,16,.3),(11,17,-.1),(12,19,.3),(12,18,-.1),
    (13,22,.3),(13,24,-.1),(14,22,.3),(14,21,.2),(14,39,.2),(15,16,.2),(15,26,.2),(15,45,.3),
    (16,27,.2),(16,46,.2),(17,18,.2),(17,30,.2),(17,47,.2),(18,19,.4),(19,20,.2),(19,31,.2),
    (20,32,.1),(20,31,.2),(21,23,.2),(21,37,.2),(21,38,-.1),(22,23,.2),(22,39,.3),(22,51,-.2),
    (23,37,.2),(23,40,.1),(24,44,.1),(24,64,.1),(25,37,.4),(25,26,.2),(25,53,.2),(26,40,.1),
    (26,45,.2),(27,40,-.1),(27,36,.1),(28,36,.2),(28,33,.1),(29,33,.2),(29,30,-.1),(30,31,.2),
    (30,55,.2),(31,32,.2),(31,56,.2),(32,48,.2),(32,49,.2),(33,36,.2),(33,47,.1),(34,35,.2),
    (34,41,.2),(35,42,.2),(36,46,.2),(36,58,-.1),(37,52,.2),(37,45,.2),(38,51,.2),(38,52,.1),
    (39,79,-.3),(39,65,-.1),(40,58,.2),(41,43,.1),(41,63,.2),(41,89,-.1),(42,61,.2),(42,66,.2),
    (43,62,.2),(44,50,.2),(44,63,.2),(45,58,.2),(45,52,.2),(46,58,.2),(46,59,.3),(46,47,.2),
    (47,54,.1),(47,60,.2),(48,56,.2),(48,69,.2),(49,57,.2),(49,85,.1),(50,77,.2),(50,90,.2),
    (50,63,.2),(51,52,.3),(51,65,.2),(52,73,.2),(52,80,.3),(53,73,.2),(53,74,.2),(54,60,.2),
    (54,67,.1),(55,57,.2),(55,83,.2),(55,67,.2),(56,69,.2),(57,85,.2),(57,70,.2),(58,74,.3),
    (58,59,.4),(59,76,.4),(59,60,.2),(60,75,.2),(61,66,.1),(61,87,.2),(62,66,.2),(62,89,.2),
    (63,89,.2),(63,90,.2),(64,77,.2),(64,78,.1),(65,80,.2),(65,101,.2),(66,95,.2),(67,76,.2),
    (67,83,.2),(68,83,.2),(68,94,.4),(69,70,.2),(69,84,.2),(70,71,.2),(70,85,.2),(71,110,.2),
    (71,86,.1),(73,74,.2),(73,103,.2),(73,80,.3),(74,81,.2),(74,75,.2),(74,105,.2),(75,92,.3),
    (75,76,.2),(76,82,.3),(76,83,.2),(77,91,.2),(77,96,.2),(78,96,.2),(79,91,.2),(79,113,.2),
    (80,101,.3),(80,102,.2),(80,104,.3),(81,104,.2),(81,106,-.2),(82,93,.3),(82,117,.3),
    (82,108,.3),(83,84,.4),(83,93,.2),(84,85,.4),(84,94,.2),(85,109,.2),(85,110,.2),(86,121,.1),
    (87,99,.2),(87,88,.1),(88,89,.2),(88,95,.2),(89,100,.2),(89,111,.2),(90,97,.2),(90,100,.2),
    (91,96,.2),(91,101,.2),(92,106,.2),(92,116,-.3),(92,107,.2),(93,94,.2),(93,118,.2),
    (94,119,.4),(94,109,.2),(95,111,.2),(96,97,.2),(96,113,.2),(97,124,.2),(97,112,.2),
    (98,99,.2),(98,130,.1),(99,111,.2),(99,122,.2),(100,112,.2),(100,131,.2),(101,102,.2),
    (101,114,.2),(102,103,.2),(102,133,.2),(103,104,.3),(103,135,.2),(104,105,.2),(104,125,-.2),
    (105,106,.2),(105,126,.3),(106,116,.2),(106,115,-.1),(107,117,.2),(107,127,.1),(108,118,.2),
    (108,117,.2),(109,120,.2),(109,119,.2),(110,120,.2),(110,129,.2),(111,123,.2),(111,122,.1),
    (112,124,.2),(112,131,.2),(113,132,.2),(113,133,.2),(114,134,.2),(114,135,.2),(115,126,.2),
    (115,125,.2),(116,126,.3),(116,142,.2),(117,127,.2),(117,118,.2),(118,137,.2),(118,144,.3),
    (119,128,.3),(119,145,.2),(120,129,.2),(120,138,.2),(121,139,.2),(121,140,.2),(122,130,.2),
    (122,141,.2),(123,131,.3),(123,149,.3),(124,132,.2),(124,151,.2),(125,126,.3),(125,135,.2),
    (126,142,.3),(126,153,-.3),(126,162,-.2),(127,136,.2),(127,137,.2),(128,138,.3),(128,146,.3),
    (128,145,.2),(129,138,.2),(129,157,.2),(130,148,.2),(131,150,.3),(131,149,.2),(132,152,.2),
    (133,152,.2),(133,161,.2),(134,135,.2),(134,161,.2),(135,153,-.2),(136,154,.3),(136,142,.2),
    (137,143,.2),(137,144,.3),(138,146,.3),(139,157,.2),(139,140,.2),(140,147,.2),(140,166,.3),
    (141,159,.2),(141,148,.2),(142,154,.3),(142,163,.2),(143,155,.2),(143,171,.2),(144,145,.2),
    (145,156,.3),(146,166,.4),(146,156,.2),(146,157,.2),(147,176,.2),(148,158,.2),(149,159,.2),
    (149,160,.3),(149,168,.2),(150,168,.2),(150,169,.2),(151,160,.2),(151,169,.2),(152,160,.2),
    (152,188,.2),(153,170,.2),(153,163,.2),(154,164,.2),(155,163,.3),(155,164,.2),(156,173,.3),
    (156,172,.3),(157,166,.3),(157,175,.2),(158,167,.2),(159,167,.3),(160,187,.2),(161,180,.2),
    (161,189,.2),(162,170,.2),(162,182,.2),(163,190,.2),(164,171,.3),(165,171,.3),(165,172,.2),
    (166,175,.2),(166,174,.3),(167,177,.3),(168,178,.2),(168,179,.2),(169,179,.2),(169,186,.2),
    (170,181,.2),(170,182,.2),(171,172,.3),(172,191,.2),(172,173,.2),(173,174,.2),(174,193,.2),
    (175,193,.2),(176,194,.2),(177,195,.2),(177,196,.2),(178,197,.2),(179,198,.2),(180,188,.2),
    (180,189,.2),(181,189,.2),(181,200,.2),(182,183,.3),(182,201,.3),(182,200,.2),(183,184,.2),
    (183,209,-.2),(184,202,.2),(184,190,.2),(185,203,.2),(185,191,.2),(186,187,.3),(186,205,.2),
    (187,198,.2),(187,199,.2),(188,199,.2),(188,207,.2),(189,208,.2),(189,218,.2),(190,203,.2),
    (190,222,.2),(191,210,.2),(192,211,.2),(192,204,.2),(193,204,.2),(194,213,.2),(195,196,.1),
    (196,215,.2),(197,205,.2),(197,215,.2),(198,206,.2),(198,217,.3),(199,207,.2),(200,208,-.2),
    (200,219,.2),(201,209,.3),(201,219,.2),(202,221,.2),(203,222,.2),(203,223,.2),(204,212,.2),
    (205,206,.3),(205,216,.2),(206,217,.2),(207,208,.3),(207,231,.4),(208,218,.2),(209,220,.2),
    (210,224,.2),(211,212,.2),(212,213,.2),(213,226,.2),(214,226,.2),(215,216,.3),(215,228,.2),
    (216,230,.2),(216,236,.2),(217,230,.3),(217,249,.2),(218,231,.2),(218,243,.2),(219,233,.3),
    (219,232,.2),(220,221,.3),(220,239,.2),(221,245,.2),(222,223,.2),(222,246,.2),(223,234,.2),
    (224,240,.2),(225,247,.2),(225,226,.2),(227,235,.2),(228,235,.2),(228,236,.2),(229,242,.2),
    (230,242,.2),(230,249,.3),(231,237,.2),(232,238,.2),(233,239,.4),(233,238,.3),(233,244,.3),
    (234,246,.3),(234,253,.2),(235,248,.2),(236,256,.2),(237,257,.3),(237,249,.2),(238,250,.2),
    (239,245,.2),(240,241,.4),(240,254,.2),(241,255,.2),(242,262,.2),(243,257,.2),(243,263,.2),
    (244,251,.3),(244,270,.2),(244,265,.2),(245,265,.2),(246,252,-.2),(247,260,.2),(247,261,.2),
    (248,256,.2),(249,257,.3),(249,262,.2),(250,264,.2),(250,251,.2),(251,270,.2),(252,253,-.3),
    (252,266,.2),(253,266,.3),(253,259,.2),(254,258,-.3),(254,272,.2),(255,260,.2),(256,268,.2),
    (257,264,.3),(257,269,.2),(258,272,-.2),(259,267,.2),(259,272,.2),(260,280,.2),(262,273,.2),
    (263,264,.2),(263,277,.2),(264,275,.4),(264,274,.2),(265,276,.3),(265,266,.3),(266,278,.2),
    (266,285,.2),(267,278,.2),(267,279,.2),(269,273,.2),(269,282,.2),(270,275,.3),(270,271,.2),
    (271,284,.2),(272,280,.2),(273,282,.2),(274,277,.2),(275,283,.4),(275,288,.2),(276,287,.4),
    (276,289,.2),(277,286,.3),(278,292,.2),(279,280,.2),(280,293,.2),(282,291,.2),(283,294,-.2),
    (283,288,.2),(284,297,.2),(284,287,.2),(285,292,.2),(286,295,.2),(287,298,.2),(288,296,.2),
    (289,298,.2),(290,286,.2),(290,277,.2),(292,293,.3),(294,295,-.1),(296,297,.2),
    (125,201,-.2),(104,142,-.1),(115,163,-.2),(59,92,-.2),(60,107,-.2),(58,82,.2),(46,74,.2),
    (53,105,-.2),(45,80,.2),(37,73,.2),(26,58,.2),(27,46,.3),(16,36,.2),(10,26,.1),(7,14,.2),
    (117,155,.2),(136,163,.3),(154,182,.2),(170,219,-.2),(181,233,.3),(189,244,.2),(200,244,.3),
    (209,244,.2),(220,244,.2),(182,219,.2),(182,239,.2),(201,245,.2),(233,264,.3),(244,276,.2),
    (244,283,.2),(244,271,.2),(233,275,.2),(238,263,.2),(238,249,.2),(217,257,.2),(230,257,.3),
    (206,229,.2),(198,229,.2),(187,230,.2),(179,217,.2),(160,198,.2),(152,199,.2),(132,160,.2),
    (133,180,.2),(113,161,-.2),(102,134,-.2),(134,181,-.2),(135,170,-.2),(161,188,-.2),
    (180,208,-.2),(188,231,-.2),(199,218,-.2),(207,243,-.2),(231,250,-.2),(237,269,-.2),
    (243,250,-.2),(250,275,-.2),(251,271,-.2),(263,274,-.2),(278,285,-.2),(266,287,-.2),
    (265,289,-.2),(267,293,-.2),(224,254,-.2),(210,234,-.2),(191,224,-.2),(203,246,-.2),
    (221,252,-.2),(222,252,-.2),(190,209,-.2),(185,210,-.2),(164,185,-.2),(155,185,-.2),
    (143,165,-.2),(137,155,-.2),(127,154,-.2),(118,143,-.2),(108,137,-.2),(93,108,-.2),
    (83,118,-.2),(76,117,-.2),(75,107,-.2),(67,82,-.2),(54,76,-.2),(47,75,-.2),(36,60,-.2),
    (33,54,-.2),(29,47,-.2),(18,30,-.2),(40,81,-.2),(53,81,-.2),(64,91,-.2),(78,97,-.2),
    (90,124,-.2),(100,123,-.2),(97,100,-.2),(95,122,-.2),
]

cd_labels = [('g__Veillonella', 820, 780), ('g__Streptococcus', 760, 928),
             ('g__Lachnoanaerobaculum', 627, 1137), ('g__Rothia', 801, 1232),
             ('g__Streptococcus', 490, 1303)]

# legend values
hc_degree_ticks = [0, 5, 10, 15, 20, 25]
uc_degree_ticks = [2, 4, 6, 8, 10]
cd_degree_ticks = [0, 4, 8, 12, 16]
hc_weight_ticks = [0.1, 0.2, 0.3, 0.4, 0.5]
uc_weight_ticks = [0.2, 0.4, 0.6]
cd_weight_ticks = [0.1, 0.2, 0.3, 0.4]

EDGE_LW = 0.75
DASH = (0, (3.3, 3.3))
PX2PT = 72 / 300


def edge_rgba(w, lo, hi):
    t = np.clip((abs(w) - lo) / (hi - lo), 0, 1)
    return (0, 0, 0, 0.22 + 0.78 * t)


def node_s(deg, v_lo, v_hi, d_lo, d_hi):
    deg = np.asarray(deg, float)
    d2 = d_lo ** 2 + (d_hi ** 2 - d_lo ** 2) * (deg - v_lo) / (v_hi - v_lo)
    d = np.sqrt(np.maximum(d2, 64))
    return (d * PX2PT) ** 2


def draw_network(ax, nodes, edges, labels, wrange, srange):
    xs = np.array([n[0] for n in nodes], float)
    ys = np.array([n[1] for n in nodes], float)
    cols = [phylum_colors[phylum_codes.index(n[2])] for n in nodes]
    degs = [n[3] for n in nodes]
    solid, solid_c, dashed, dashed_c = [], [], [], []
    for i, j, w in edges:
        if i >= len(nodes) or j >= len(nodes) or i == j:
            continue
        seg = [(xs[i], ys[i]), (xs[j], ys[j])]
        if w > 0:
            solid.append(seg)
            solid_c.append(edge_rgba(w, *wrange))
        else:
            dashed.append(seg)
            dashed_c.append(edge_rgba(w, *wrange))
    ax.add_collection(LineCollection(dashed, colors=dashed_c, linewidths=EDGE_LW,
                                     linestyles=[DASH], zorder=1))
    ax.add_collection(LineCollection(solid, colors=solid_c, linewidths=EDGE_LW, zorder=1))
    ax.scatter(xs, ys, s=node_s(degs, *srange), c=cols, linewidths=0, zorder=2,
               clip_on=False)
    for txt, x, y in labels:
        ax.text(x, y, txt, color='red', fontsize=12, fontstyle='italic',
                ha='left', va='center', zorder=3)
    ax.axis('off')


def draw_legend(ov, title_x, key_x, text_x, text_x2, ys, deg_ticks, w_ticks,
                wrange, srange):
    (y_phy, y_items, y_cor, y_pos, y_neg, y_deg, y_degs, y_w, y_ws) = ys
    k0, k1 = key_x
    km = (k0 + k1) / 2
    ov.text(title_x, y_phy, 'Phylum', fontsize=11, va='center', ha='left')
    for name, col, y in zip(phylum_names, phylum_colors, y_items):
        ov.plot([k0, k1], [y, y], color='black', lw=0.8)
        ov.scatter([km], [y], s=(20 * PX2PT) ** 2, color=col, linewidths=0, zorder=3)
        ov.text(text_x, y, name, fontsize=9, va='center', ha='left')
    ov.text(title_x, y_cor, 'Correlation', fontsize=11, va='center', ha='left')
    ov.plot([k0, k1], [y_pos, y_pos], color='black', lw=0.8)
    ov.text(text_x2, y_pos, 'Positive', fontsize=9, va='center', ha='left')
    ov.plot([k0, k1], [y_neg, y_neg], color='black', lw=0.8, linestyle=(0, (6, 6)))
    ov.text(text_x2, y_neg, 'Negative', fontsize=9, va='center', ha='left')
    ov.text(title_x, y_deg, 'Nodes degree', fontsize=11, va='center', ha='left')
    for v, y in zip(deg_ticks, y_degs):
        ov.plot([k0, k1], [y, y], color='black', lw=0.8)
        ov.scatter([km], [y], s=node_s([v], *srange), color='black', linewidths=0, zorder=3)
        ov.text(text_x2, y, str(v), fontsize=9, va='center', ha='left')
    ov.text(title_x, y_w, 'Edges weight', fontsize=11, va='center', ha='left')
    for v, y in zip(w_ticks, y_ws):
        ov.plot([k0, k1], [y, y], color=edge_rgba(v, *wrange), lw=0.8)
        ov.text(text_x2, y, f'{v:.1f}', fontsize=9, va='center', ha='left')


W, H = 6315, 5037
fig = plt.figure(figsize=(W / 300, H / 300), dpi=300)

axA = fig.add_axes([0, 1 - 2550 / H, 2550 / W, 2550 / H])
axA.set_xlim(0, 1550)
axA.set_ylim(1550, 0)
axB = fig.add_axes([3150 / W, 1 - 2550 / H, 2550 / W, 2550 / H])
axB.set_xlim(0, 1550)
axB.set_ylim(1550, 0)
axC = fig.add_axes([1650 / W, 0, 2600 / W, 2487 / H])
axC.set_xlim(0, 1568)
axC.set_ylim(1568, 0)

hc_w, uc_w, cd_w = (0.08, 0.5), (0.15, 0.6), (0.08, 0.4)
hc_s, uc_s, cd_s = (0, 25, 15, 60), (2, 10, 12, 64), (0, 16, 14, 61)

draw_network(axA, hc_nodes, hc_edges, hc_labels, hc_w, hc_s)
draw_network(axB, uc_nodes, uc_edges, uc_labels, uc_w, uc_s)
draw_network(axC, cd_nodes, cd_edges, cd_labels, cd_w, cd_s)

ov = fig.add_axes([0, 0, 1, 1])
ov.set_xlim(0, W)
ov.set_ylim(H, 0)
ov.axis('off')

ov.text(33, 74, 'A', fontsize=18, fontweight='bold', ha='left', va='center')
ov.text(1217, 74, 'HC', fontsize=18, fontweight='bold', ha='center', va='center')
ov.text(3204, 74, 'B', fontsize=18, fontweight='bold', ha='left', va='center')
ov.text(4482, 74, 'UC', fontsize=18, fontweight='bold', ha='center', va='center')
ov.text(1678, 2658, 'C', fontsize=18, fontweight='bold', ha='left', va='center')
ov.text(3043, 2658, 'CD', fontsize=18, fontweight='bold', ha='center', va='center')

draw_legend(ov, 2582, (2586, 2646), 2688, 2677,
            (474, [557, 631, 706, 781, 856, 929, 1004], 1100, 1183, 1259, 1343,
             [1426, 1501, 1574, 1650, 1725, 1799], 1900, [1981, 2056, 2131, 2206, 2280]),
            hc_degree_ticks, hc_weight_ticks, hc_w, hc_s)
draw_legend(ov, 5775, (5780, 5840), 5882, 5872,
            (581, [663, 738, 811, 885, 959, 1033, 1107], 1185, 1267, 1341, 1430,
             [1512, 1587, 1661, 1734, 1809], 1895, [1976, 2050, 2124]),
            uc_degree_ticks, uc_weight_ticks, uc_w, uc_s)
draw_legend(ov, 4407, (4412, 4472), 4515, 4503,
            (3014, [3097, 3171, 3246, 3320, 3393, 3467, 3541], 3630, 3711, 3785, 3882,
             [3961, 4036, 4109, 4184, 4258], 4346, [4428, 4501, 4576, 4649]),
            cd_degree_ticks, cd_weight_ticks, cd_w, cd_s)

fig.savefig('out.png', dpi=300)
